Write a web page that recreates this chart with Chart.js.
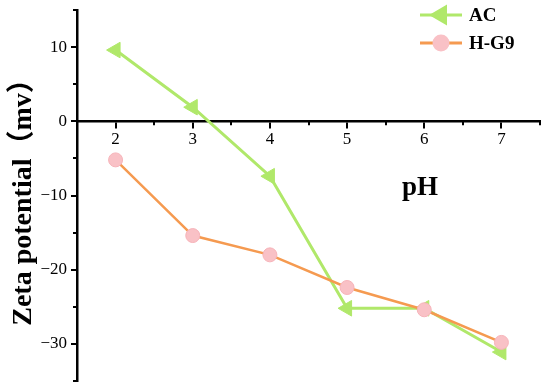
<!DOCTYPE html>
<html>
<head>
<meta charset="utf-8">
<script src="https://cdn.jsdelivr.net/npm/chart.js@4/dist/chart.umd.min.js"></script>
<style>
    html, body { margin: 0; padding: 0; background: #fff; }
    #wrap { width: 550px; height: 391px; position: relative; }
</style>
</head>
<body>
<div id="wrap"><canvas id="zeta" width="550" height="391"></canvas></div>
<script>
const phValues = [2, 3, 4, 5, 6, 7];
const acZeta = [9.6, 1.9, -7.4, -25.2, -25.2, -31.1];
const hg9Zeta = [-5.2, -15.4, -18.0, -22.4, -25.4, -29.8];
const xTicks = [2, 3, 4, 5, 6, 7];
const yTicks = [-30, -20, -10, 0, 10];
const xMinor = [1.5, 2.5, 3.5, 4.5, 5.5, 6.5, 7.5];
const yMinor = [-35, -25, -15, -5, 5, 15];

const GREEN = "#b0e86a";
const ORANGE = "#f59a50";
const PINK = "#f9c1c6";
const SERIF = "'Liberation Serif', 'Times New Roman', 'Noto Sans CJK SC', serif";

const toPoints = (ys) => phValues.map((x, i) => ({ x, y: ys[i] }));

// minor ticks, legend and the pH label
const extras = {
    id: "extras",
    afterDraw(chart) {
        const ctx = chart.ctx;
        const xs = chart.scales.x;
        const ys = chart.scales.y;
        const y0 = ys.getPixelForValue(0);
        ctx.save();
        ctx.strokeStyle = "#000";
        ctx.lineWidth = 2;
        xMinor.forEach((v) => {
            const px = Math.round(xs.getPixelForValue(v));
            ctx.beginPath();
            ctx.moveTo(px, y0);
            ctx.lineTo(px, y0 + 4);
            ctx.stroke();
        });
        yMinor.forEach((v) => {
            const py = Math.round(ys.getPixelForValue(v));
            ctx.beginPath();
            ctx.moveTo(xs.left, py);
            ctx.lineTo(xs.left - 4, py);
            ctx.stroke();
        });

        const items = [
            { label: "AC", color: GREEN, y: 15, point: { pointStyle: "triangle", rotation: -90, radius: 9, borderWidth: 1 }, fill: GREEN },
            { label: "H-G9", color: ORANGE, y: 43, point: { pointStyle: "circle", rotation: 0, radius: 7, borderWidth: 1 }, fill: PINK }
        ];
        items.forEach((it) => {
            ctx.strokeStyle = it.color;
            ctx.lineWidth = 3;
            ctx.beginPath();
            ctx.moveTo(420, it.y);
            ctx.lineTo(462, it.y);
            ctx.stroke();
            ctx.fillStyle = it.fill;
            ctx.strokeStyle = it.fill;
            Chart.helpers.drawPoint(ctx, it.point, 441, it.y);
            ctx.fillStyle = "#000";
            ctx.font = "bold 19px " + SERIF;
            ctx.textBaseline = "middle";
            ctx.textAlign = "left";
            ctx.fillText(it.label, 469, it.y + 1);
        });

        ctx.font = "bold 27px " + SERIF;
        ctx.textBaseline = "alphabetic";
        ctx.fillText("pH", 402, 195);
        ctx.restore();
    }
};

new Chart(document.getElementById("zeta"), {
    type: "line",
    data: {
        datasets: [
            {
                label: "AC",
                data: toPoints(acZeta),
                borderColor: GREEN,
                backgroundColor: GREEN,
                borderWidth: 3,
                pointStyle: "triangle",
                rotation: -90,
                pointRadius: 9,
                pointBorderWidth: 1,
                pointBorderColor: GREEN,
                order: 1
            },
            {
                label: "H-G9",
                data: toPoints(hg9Zeta),
                borderColor: ORANGE,
                backgroundColor: PINK,
                borderWidth: 2.5,
                pointStyle: "circle",
                pointRadius: 7,
                pointBorderWidth: 1,
                pointBorderColor: "#f6b3b9",
                pointBackgroundColor: PINK,
                order: 0
            }
        ]
    },
    options: {
        responsive: false,
        animation: false,
        layout: { padding: { top: 3, right: 8, bottom: 8, left: 0 } },
        plugins: {
            legend: { display: false },
            tooltip: { enabled: false }
        },
        scales: {
            x: {
                type: "linear",
                min: 1.5,
                max: 7.5,
                position: { y: 0 },
                afterBuildTicks: (scale) => { scale.ticks = xTicks.map((v) => ({ value: v })); },
                border: { color: "#000", width: 2.5 },
                grid: { drawOnChartArea: false, color: "#000", lineWidth: 2, tickLength: 6 },
                ticks: { color: "#000", padding: 2, font: { family: SERIF, size: 17 } }
            },
            y: {
                min: -35,
                max: 15,
                afterBuildTicks: (scale) => { scale.ticks = yTicks.map((v) => ({ value: v })); },
                afterFit: (scale) => {
                    scale.width = 77;
                    scale.paddingTop = 0;
                    scale.paddingBottom = 0;
                },
                border: { color: "#000", width: 2.5 },
                grid: { drawOnChartArea: false, color: "#000", lineWidth: 2, tickLength: 6 },
                ticks: {
                    color: "#000",
                    padding: 4,
                    font: { family: SERIF, size: 17 },
                    callback: (v) => String(v).replace("-", "\u2212")
                },
                title: {
                    display: true,
                    text: "Zeta potential\uff08mv\uff09",
                    color: "#000",
                    padding: { top: 7, bottom: 0 },
                    font: { family: SERIF, size: 28, weight: "bold" }
                }
            }
        }
    },
    plugins: [extras]
});
</script>
</body>
</html>
